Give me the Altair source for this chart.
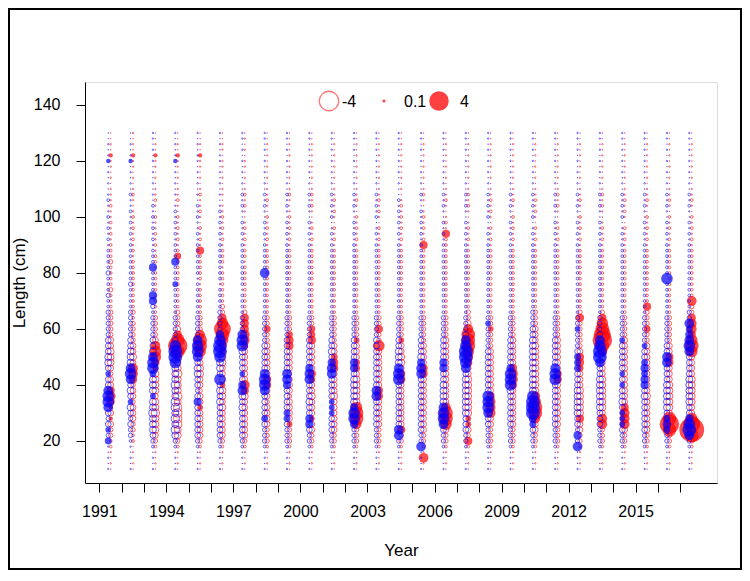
import altair as alt
import pandas as pd

# ---------------- data ----------------
years = list(range(1991, 2018))
lengths = list(range(10, 131, 2))  # length bins (cm)

# residual codes (one char per length bin 10..130 cm)
resid_code = {
    'a': -0.02, 'b': -0.08, 'c': -0.2, 'd': -0.35, 'e': -0.5, 'f': -0.7,
    'g': -1.0, 'h': -1.4, 'i': -2.0, 'j': -3.0,
    '0': 0.02, '1': 0.1, '2': 0.2, '3': 0.35, '4': 0.5, '5': 0.7,
    '6': 1.0, '7': 1.4, '8': 2.0, '9': 3.0, 'X': 4.0, 'Y': 5.0, 'Z': 6.5,
}

female_resid = [
    "0a0abbccd2" "d2565ddcde" "eeddcccccb" "bbcbbbbcbb" "bababaabaa" "a0a0aa20a0" "0",
    "0a0a0bbccd" "ddcddc566d" "eddccccbcb" "bbbbbbbbab" "abababa0ab" "a0a0aa20a0" "a",
    "0a0abcdeee" "feedeeee35" "776dccccbb" "bbbbbbabba" "babaab0aba" "a0a0aa20a0" "0",
    "0a0abceeff" "ffefeeefed" "48X85dcccb" "bbbbbbbb4b" "ababab0aba" "a0a0aa20a0" "0",
    "0a0abcdddd" "d3ddcddeed" "d7886cccbb" "bbbabbbbb5" "abab0abaab" "a0a0aa20a0" "0",
    "0a0abcdddd" "dedee3ddde" "e4578975cc" "bbbbbbabbb" "abababaa0a" "a0a0aa0aa0" "0",
    "0a0abcdddd" "ddde56dddd" "dd466555cb" "bbbbbbbabb" "ababa0abab" "a0a0aa0a0a" "0",
    "0a0abcccdd" "ddcdd55ddd" "dddcc4ccbb" "bbbbbbbbbb" "ababab0aba" "a0a0a0a0a0" "0",
    "0a0abccc3d" "dddcdddcdd" "dd554cccbb" "bbbbbbbbbb" "abababa0ab" "a0a0a0a0a0" "0",
    "0a0abccdd3" "dddedd45dd" "ddd544ccbb" "bbbbbbbbbb" "ababa0abab" "a0a0a0a0a0" "0",
    "0a0abccddd" "dddedddd55" "4ddcccccbb" "bbbbbbbbbb" "abab0ababa" "a0a0a0a0a0" "0",
    "0a0abccc68" "87eeeeed44" "ddd3ccccbb" "bbbbbbbbbb" "ababab0aba" "a0a0a0a0a0" "0",
    "0a0abcccdd" "ddd55ddddd" "dd7cc5ccbb" "bbbbbbbbbb" "abab0ababa" "a0a0a0a0a0" "0",
    "0a0abcc5dd" "dddddd55de" "edd3ccccbb" "bbbbbbbbbb" "ababababa0" "a0a0a0a0a0" "0",
    "0a6abccddd" "ddddddd55d" "dddcccccbb" "bbbbbbbbbb" "5bababa0ab" "a0a0a0a0a0" "0",
    "0a0abccd78" "86dddddddd" "ddddccccbb" "bbbbbbbbbb" "bb5aba0aba" "a0a0a0a0a0" "0",
    "0a0ab5cd33" "eeeeeeedd5" "678886dccb" "bbbbbbbbbb" "ababa0abab" "a0a0a0a0a0" "0",
    "0a0abcccdd" "6665dddddd" "ddccc3ccbb" "bbbbbbbbbb" "abab0ababa" "a0a0a0a0a0" "0",
    "0a0abcccdd" "ddddd5665d" "ddddccccbb" "bbbbbbbbbb" "ababab0aba" "a0a0a0a0a0" "0",
    "0a0abccdd6" "8876eeeeee" "eeedddcccb" "bbbbbbbbbb" "abab0ababa" "a0a0a0a0a0" "0",
    "0a0abcccdd" "dddddd55dd" "ddddccccbb" "bbbbbbbbbb" "ababa0abab" "a0a0a0a0a0" "0",
    "0a0abccdd5" "eeeeeddd45" "5dccccc5cb" "bbbbbbbbbb" "ababab0aba" "a0a0a0a0a0" "0",
    "0a0abccc66" "deeeeeeddd" "d68X9875cb" "bbbbbbbbbb" "ababa0abab" "a0a0a0a0a0" "0",
    "0a0abccd66" "65dddddddd" "ddddccccbb" "bbbbbbbbbb" "abab0ababa" "a0a0a0a0a0" "0",
    "0a0abccddd" "dddedddddd" "dddcc4ccc5" "bbbbbbbbbb" "ababab0aba" "a0a0a0a0a0" "0",
    "0a0abcc8X8" "deeeeeddd5" "5ddcccccbb" "bbbbbbbbbb" "ababab0aba" "a0a0a0a0a0" "0",
    "0a0abc8Z97" "ddeeeeeddd" "d7875665cc" "6bbbbbbbbb" "ababab0aba" "a0a0a0a0a0" "0",
]

male_resid = [
    "a0a0a4c3dc" "d6776dd3de" "edddcccccb" "bcbbbcbbbb" "abababaaba" "0a0a02a0a0" "0",
    "a0a0abccdc" "de3ded676e" "eeddcccccb" "bbbcbbbbbb" "babababaab" "0a0a02a0a0" "0",
    "a0a0bcdeee" "fee3eee477" "6eddccccbc" "55bbbb5bbb" "abababab0a" "0a0a0a0a0a" "a",
    "a0a0bcefef" "effeefeee7" "887dccccbb" "bbb3bbb5bb" "babababa0a" "0a0a02a0a0" "a",
    "a0a0bcdddd" "dd5dcddeed" "6776ccccbb" "bbbbabbbbb" "babaabab0a" "0a0a0aa0a0" "a",
    "a0a0bcdddd" "ddeded7dee" "78875ccccb" "bbbabbbbbb" "babababa0a" "0a0a0aa0a0" "a",
    "a0a0bcdddd" "dede65d3dd" "de776cccbb" "bbabbbbbbb" "babab0abab" "0a0a0a0a0a" "a",
    "a0a0bcccd4" "dddd6776dd" "dddcccccbb" "bbbbb6bbbb" "babab0abab" "0a0a0a0a0a" "a",
    "a0a0bcccd4" "4dddd566dd" "ddddccccbb" "bbbbbbbbbb" "babab0abab" "0a0a0a0a0a" "a",
    "a0a0bccd55" "ddeddd665d" "ddddccccbb" "bbbbbbbbbb" "babab0abab" "0a0a0a0a0a" "a",
    "a0a0bccddd" "333dddd665" "deddccccbb" "bbbbbbbbbb" "baba0babab" "0a0a0a0a0a" "a",
    "a0a0bccc57" "75eeeeed55" "ddddccccbb" "bbbbbbbbbb" "babab0abab" "0a0a0a0a0a" "a",
    "a0a0bcccdd" "ddd66ddddd" "ddddccccbb" "bbbbbbbbbb" "baba0babab" "0a0a0a0a0a" "a",
    "a0a0bc66dd" "dddddd776e" "eeddccccbb" "bbbbbbbbbb" "babababab0" "0a0a0a0a0a" "a",
    "a0a06ccddd" "ddddddd665" "edddccccbb" "bbbbbbbbbb" "bababab0ab" "0a0a0a0a0a" "a",
    "a0a0bccd67" "76eeeedd55" "ddddccccbb" "bbbbbbbbbb" "babab0abab" "0a0a0a0a0a" "a",
    "a0a0bccddd" "eeeeeeed67" "8876dcccbb" "bbbbbbbbbb" "babab0abab" "0a0a0a0a0a" "a",
    "a0a0bcccdd" "6777dddddd" "ddcccc3cbb" "bbbbbbbbbb" "baba0babab" "0a0a0a0a0a" "a",
    "a0a0bcccdd" "dddde7775d" "ddddccccbb" "bbbbbbbbbb" "babab0abab" "0a0a0a0a0a" "a",
    "a0a0bccd45" "8887eeeeee" "eeeeddcccb" "bbbbbbbbbb" "baba0babab" "0a0a0a0a0a" "a",
    "a0a0bcccdd" "dddddd776d" "ddddccccbb" "bbbbbbbbbb" "babab0abab" "0a0a0a0a0a" "a",
    "a0a06c5cdd" "eeeeeddd44" "4dccc3ccbb" "bbbbbbbbbb" "babab0abab" "0a0a0a0a0a" "a",
    "a0a0bcccdd" "deeeeeedd6" "8876dcccbb" "bbbbbbbbbb" "babab0abab" "0a0a0a0a0a" "a",
    "a0a0bccd33" "3dedd3d3dd" "ddd3ccccbb" "bbbbbbbbbb" "baba0babab" "0a0a0a0a0a" "a",
    "a0a0bccddd" "ddded55454" "dd3cccccbb" "bbbbbbbbbb" "babab0abab" "0a0a0a0a0a" "a",
    "a0a0bcc454" "deeeeeddd6" "6ddcccccbb" "bbbb7bbbbb" "babab0abab" "0a0a0a0a0a" "a",
    "a0a0bc6875" "ddeeeeeddd" "d676546ccb" "bbbbbbbbbb" "babab0abab" "0a0a0a0a0a" "a",
]

legend_values = [-4, 0.1, 4]
legend_labels = ["-4", "0.1", "4"]
x_tick_years = years
y_tick_values = [20, 40, 60, 80, 100, 120, 140]

# ---------------- table ----------------
rows = []
for sex, table, off in (("F", female_resid, 0.51), ("M", male_resid, 0.40)):
    for yr, s in zip(years, table):
        assert len(s) == len(lengths), (sex, yr, len(s))
        for L, ch in zip(lengths, s):
            v = resid_code[ch]
            rows.append({"sex": sex, "x": yr + off, "length": L,
                         "resid": v, "mag": abs(v)})
df = pd.DataFrame(rows)

# ---------------- layout ----------------
W, H = 632, 401
FONT = "Liberation Sans"
RED = "#FF0000"
BLUE = "#0000FF"
SIZE_SCALE = alt.Scale(type="linear", domain=[0, 4], range=[0, 380], zero=True)

x_enc = alt.X(
    "x:Q",
    scale=alt.Scale(domain=[1990.36, 2018.64], nice=False, zero=False),
    axis=alt.Axis(
        values=x_tick_years,
        labelExpr="(datum.value - 1991) % 3 == 0 ? format(datum.value, 'd') : ''",
        grid=False, domain=True, domainColor="black", domainWidth=1,
        tickSize=9, tickColor="black", tickWidth=1,
        labelFont=FONT, labelFontSize=16, labelColor="black", labelPadding=11,
        labelFlush=False, labelOverlap=False,
        title="Year", titleFont=FONT, titleFontSize=17, titleFontWeight="normal",
        titleColor="black", titleX=W / 2, titleY=67, titleBaseline="middle",
    ),
)
y_enc = alt.Y(
    "length:Q",
    scale=alt.Scale(domain=[5, 148.2], nice=False, zero=False),
    axis=alt.Axis(
        values=y_tick_values, grid=False, domain=True, domainColor="black",
        domainWidth=1, tickSize=9, tickColor="black", tickWidth=1,
        labelFont=FONT, labelFontSize=16, labelColor="black", labelPadding=16,
        title="Length (cm)", titleFont=FONT, titleFontSize=17,
        titleFontWeight="normal", titleColor="black",
        titleX=-66, titleY=H / 2, titleAngle=-90, titleBaseline="middle",
        titleAlign="center",
    ),
)
size_enc = alt.Size("mag:Q", scale=SIZE_SCALE, legend=None)

base = alt.Chart(df).encode(x=x_enc, y=y_enc, size=size_enc)


def neg(color, sex):
    return base.mark_point(shape="circle", filled=False, color=color,
                           strokeWidth=1, opacity=0.65).transform_filter(
        f"datum.sex == '{sex}' && datum.resid < 0")


def pos(color, sex):
    return base.mark_circle(color=color, opacity=0.7).transform_filter(
        f"datum.sex == '{sex}' && datum.resid > 0")


layers = [neg(RED, "F"), pos(RED, "F"), neg(BLUE, "M"), pos(BLUE, "M")]

# legend (pixel layout)
LEG_X = [244, 299, 354]
LEG_TX = [257, 319, 375]
LEG_Y = 19
for val, lab, lx, tx in zip(legend_values, legend_labels, LEG_X, LEG_TX):
    ldf = pd.DataFrame({"mag": [abs(val)]})
    if val < 0:
        sym = alt.Chart(ldf).mark_point(shape="circle", filled=True, fill="white",
                                        fillOpacity=1, stroke=RED, strokeOpacity=0.55,
                                        strokeWidth=1.3)
    else:
        sym = alt.Chart(ldf).mark_circle(color=RED, opacity=0.75)
    layers.append(sym.encode(x=alt.value(lx), y=alt.value(LEG_Y),
                             size=alt.Size("mag:Q", scale=SIZE_SCALE, legend=None)))
    layers.append(alt.Chart(ldf).mark_text(text=lab, align="left", baseline="middle",
                                           font=FONT, fontSize=16, color="black")
                  .encode(x=alt.value(tx), y=alt.value(LEG_Y + 1)))

# outer figure frame
frame = alt.Chart(pd.DataFrame({"a": [0]})).mark_rect(
    fillOpacity=0, stroke="black", strokeWidth=2).encode(
    x=alt.value(-76), x2=alt.value(W + 24), y=alt.value(-73), y2=alt.value(H + 86))
layers.append(frame)

chart = alt.layer(*layers).properties(
    width=W, height=H,
    autosize=alt.AutoSizeParams(type="none"),
    padding={"left": 77, "top": 74, "right": 25, "bottom": 88},
).configure_view(stroke="#444444", strokeWidth=1.5).configure(background="white")

chart.save("out.html", embed_options={"renderer": "svg", "actions": False})
